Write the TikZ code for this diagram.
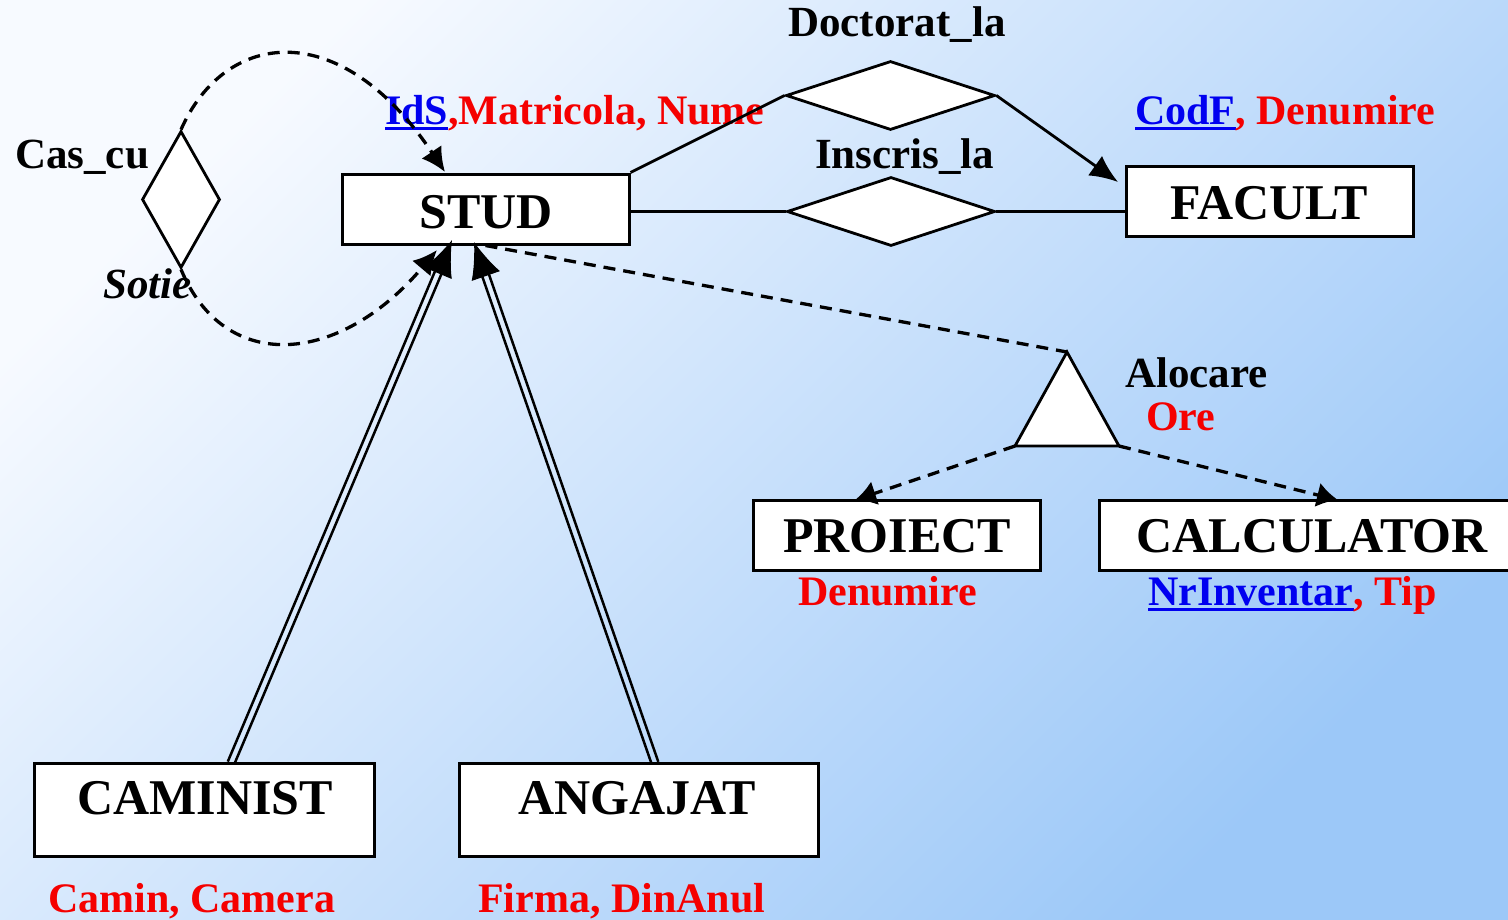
\documentclass[tikz,border=0pt]{standalone}
\usepackage{fontspec}
\setmainfont{Liberation Serif}
\usetikzlibrary{shapes.geometric,arrows.meta,calc}
\definecolor{bgA}{RGB}{247,250,255}
\definecolor{bgB}{RGB}{156,200,248}
\definecolor{attrRed}{RGB}{245,0,0}
\definecolor{keyBlue}{RGB}{0,0,240}
\newcommand\keyul[1]{\vtop{\hbox{#1}\kern3pt\hrule height 2.2pt}}
\tikzset{
  ent/.style={draw, line width=3pt, fill=white, inner sep=0pt, rectangle},
  enttxt/.style={font=\fontsize{50}{52}\selectfont\bfseries, anchor=base, inner sep=0pt},
  lbl/.style={font=\fontsize{43}{46}\selectfont\bfseries, anchor=base west, inner sep=0pt},
  attr/.style={font=\fontsize{42}{45}\selectfont\bfseries, anchor=base west, inner sep=0pt, text=attrRed},
  rel/.style={diamond, draw, line width=2.8pt, fill=white, inner sep=0pt, aspect=1},
  conn/.style={line width=2.8pt},
  dsh/.style={line width=3.3pt, dash pattern=on 12pt off 8pt},
  dline/.style={line width=2.5pt, shorten >=26pt},
  bigtip/.style={-{Latex[length=36pt,width=30pt]}, line width=1pt},
  smtip/.style={-{Latex[length=24pt,width=24pt]}},
  midtip/.style={-{Latex[length=21pt,width=25pt]}},
}
\begin{document}
\begin{tikzpicture}[x=1pt,y=-1pt]
\useasboundingbox (0,0) rectangle (1508,919);
\clip (0,0) rectangle (1508,919);
\shade[top color=bgA, bottom color=bgB, shading angle=45] (0,0) rectangle (1508,919);

% entities
\node[ent, minimum width=287pt, minimum height=70pt] (stud) at (485.5,209) {};
\node[ent, minimum width=287pt, minimum height=70pt] (fac) at (1269.5,201) {};
\node[ent, minimum width=287pt, minimum height=70pt] (pro) at (896.5,535) {};
\node[ent, minimum width=419pt, minimum height=70pt] (cal) at (1308.5,535) {};
\node[ent, minimum width=340pt, minimum height=93pt] (cam) at (204,809.5) {};
\node[ent, minimum width=359pt, minimum height=93pt] (ang) at (638.5,809.5) {};

\node[enttxt] (studT) at (486,228) {STUD};
\node[enttxt] (facT) at (1269,219) {FACULT};
\node[enttxt] (proT) at (897,552) {PROIECT};
\node[enttxt] (calT) at (1312,552) {CALCULATOR};
\node[enttxt] (camT) at (205,814) {CAMINIST};
\node[enttxt] (angT) at (637,814) {ANGAJAT};

% relationships
\node[rel, minimum width=209pt, minimum height=69pt] (doc) at (890.5,95.5) {};
\node[rel, minimum width=208pt, minimum height=69pt] (ins) at (891,211.5) {};
\node[rel, minimum width=78pt, minimum height=137pt] (cas) at (181,199.5) {};

\coordinate (tA) at (1067,352);
\coordinate (tL) at (1015,446);
\coordinate (tR) at (1119,446);
\draw[conn, fill=white, line join=miter] (tA) -- (tL) -- (tR) -- cycle;

% labels
\node[lbl] (docL) at (788,36) {Doctorat\_la};
\node[lbl] (insL) at (815,168) {Inscris\_la};
\node[lbl] (casL) at (15,168) {Cas\_cu};
\node[lbl, font=\fontsize{43}{46}\selectfont\bfseries\itshape] (sotL) at (103,298) {Sotie};
\node[lbl] (aloL) at (1125,387) {Alocare};
\node[attr] (oreL) at (1146,430) {Ore};
\node[attr] (studA) at (385,124) {{\color{keyBlue}\keyul{IdS}},Matricola, Nume};
\node[attr] (facA) at (1135,124) {{\color{keyBlue}\keyul{CodF}}, Denumire};
\node[attr] (proA) at (798,605) {Denumire};
\node[attr] (calA) at (1148,605) {{\color{keyBlue}\keyul{NrInventar}}, Tip};
\node[attr] (camA) at (48,912) {Camin, Camera};
\node[attr] (angA) at (478,912) {Firma, DinAnul};

% connectors
\draw[conn] (ins.west -| stud.east) -- (ins.west);
\draw[conn] (ins.east) -- (ins.east -| fac.west);
\draw[conn] (stud.north east) -- (doc.west);
\coordinate (facArr) at (1118,182);
\draw[conn, -{Latex[length=28pt,width=24pt]}] (doc.east) -- (facArr);

\coordinate (sotTop) at (445,172);
\coordinate (sotBot) at (437,250);
\draw[dsh, smtip] (cas.north) .. controls (225,30) and (340,15) .. (sotTop);
\draw[dsh, smtip] (cas.south) .. controls (225,375) and (340,365) .. (sotBot);

\draw[dsh] (stud.south) -- (tA);
\coordinate (proArr) at (855,500);
\coordinate (calArr) at (1338,500);
\draw[dsh, midtip] (tL) -- (proArr);
\draw[dsh, midtip] (tR) -- (calArr);

% double arrows
\coordinate (camS) at (231,763);
\coordinate (camE) at (452,240);
\coordinate (angS) at (655,763);
\coordinate (angE) at (474,242);
\draw[dline] ($(camS)!3.5pt!90:(camE)$) -- ($(camE)!3.5pt!-90:(camS)$);
\draw[dline] ($(camS)!3.5pt!-90:(camE)$) -- ($(camE)!3.5pt!90:(camS)$);
\draw[bigtip] ($(camE)!20pt!(camS)$) -- (camE);
\draw[dline] ($(angS)!3.5pt!90:(angE)$) -- ($(angE)!3.5pt!-90:(angS)$);
\draw[dline] ($(angS)!3.5pt!-90:(angE)$) -- ($(angE)!3.5pt!90:(angS)$);
\draw[bigtip] ($(angE)!20pt!(angS)$) -- (angE);
\end{tikzpicture}
\end{document}
